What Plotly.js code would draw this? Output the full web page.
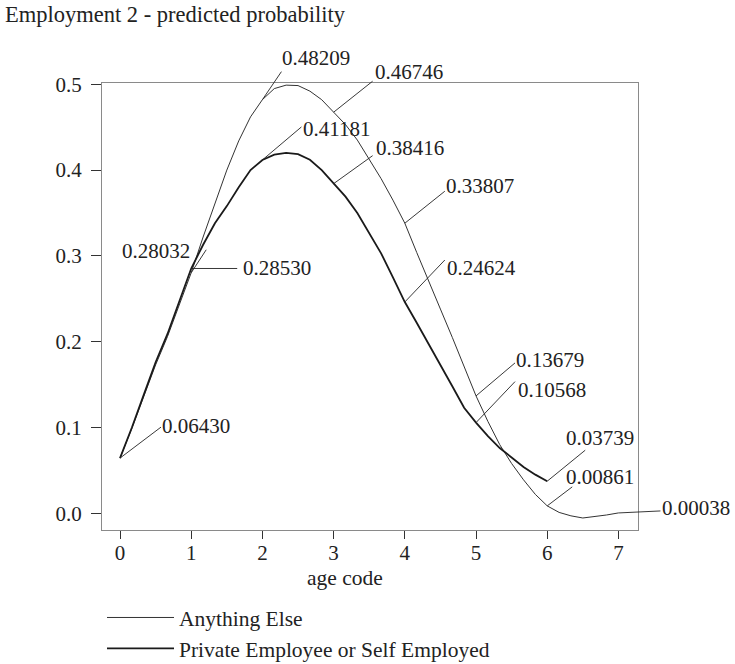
<!DOCTYPE html>
<html>
<head>
<meta charset="utf-8">
<script src="https://cdn.plot.ly/plotly-3.0.1.min.js"></script>
<style>html,body{margin:0;padding:0;background:#fff;}#chart{width:735px;height:664px;}</style>
</head>
<body>
<div id="chart"></div>
<script>
// ---- data ----
const chartTitle = "Employment 2 - predicted probability";
const xAxisTitle = "age code";
const seriesNames = ["Anything Else", "Private Employee or Self Employed"];

const ageCodeElse = [0, 0.167, 0.333, 0.5, 0.667, 0.833, 1, 1.167, 1.333, 1.5, 1.667, 1.833, 2, 2.167, 2.333, 2.5, 2.667, 2.833, 3, 3.167, 3.333, 3.5, 3.667, 3.833, 4, 4.167, 4.333, 4.5, 4.667, 4.833, 5, 5.167, 5.333, 5.5, 5.667, 5.833, 6, 6.167, 6.333, 6.5, 6.667, 6.833, 7];
const probElse = [0.0643, 0.099, 0.136, 0.173, 0.206, 0.243, 0.2803, 0.322, 0.362, 0.400, 0.434, 0.462, 0.4821, 0.495, 0.499, 0.4985, 0.492, 0.482, 0.4675, 0.453, 0.435, 0.413, 0.390, 0.365, 0.3381, 0.304, 0.270, 0.238, 0.205, 0.170, 0.1368, 0.107, 0.080, 0.058, 0.039, 0.022, 0.0086, 0.001, -0.003, -0.0055, -0.004, -0.002, 0.0004];

const ageCodePrivate = [0, 0.167, 0.333, 0.5, 0.667, 0.833, 1, 1.167, 1.333, 1.5, 1.667, 1.833, 2, 2.167, 2.333, 2.5, 2.667, 2.833, 3, 3.167, 3.333, 3.5, 3.667, 3.833, 4, 4.167, 4.333, 4.5, 4.667, 4.833, 5, 5.167, 5.333, 5.5, 5.667, 5.833, 6];
const probPrivate = [0.0643, 0.100, 0.138, 0.176, 0.209, 0.247, 0.2853, 0.313, 0.338, 0.358, 0.380, 0.400, 0.4118, 0.418, 0.420, 0.4185, 0.412, 0.400, 0.3842, 0.369, 0.350, 0.327, 0.303, 0.275, 0.2462, 0.222, 0.198, 0.173, 0.148, 0.123, 0.1057, 0.090, 0.076, 0.065, 0.054, 0.045, 0.0374];

// labelled points
const labelAgeElse = [1, 2, 3, 4, 5, 6, 7];
const labelValElse = [0.28032, 0.48209, 0.46746, 0.33807, 0.13679, 0.00861, 0.00038];
const labelAgePrivate = [0, 1, 2, 3, 4, 5, 6];
const labelValPrivate = [0.06430, 0.28530, 0.41181, 0.38416, 0.24624, 0.10568, 0.03739];

const xTickVals = [0, 1, 2, 3, 4, 5, 6, 7];
const yTickVals = [0, 0.1, 0.2, 0.3, 0.4, 0.5];

// ---- layout / style (pixel offsets of leaders and labels) ----
// [leader dx, leader dy, text dx, text dy(screen, down +), anchor]
const offsElse = [
  [15, -23, -1, -22, "right"],
  [19, -28, 20, -42, "left"],
  [39, -31, 41, -40, "left"],
  [40, -32, 41, -37, "left"],
  [39, -33, 40, -36, "left"],
  [25, -19, 19, -29, "left"],
  [42, -2, 44, -5, "left"]
];
const offsPrivate = [
  [41, -31, 42, -32, "left"],
  [46, 0, 52, 0, "left"],
  [39, -33, 41, -31, "left"],
  [39, -28, 42, -36, "left"],
  [40, -42, 42, -34, "left"],
  [39, -41, 42, -33, "left"],
  [38, -31, 19, -43, "left"]
];

const FONT = "Liberation Serif, Times New Roman, serif";
const INK = "#222";

const traces = [
  {x: ageCodeElse, y: probElse, name: seriesNames[0], mode: "lines", type: "scatter",
   line: {color: "#333", width: 1}},
  {x: ageCodePrivate, y: probPrivate, name: seriesNames[1], mode: "lines", type: "scatter",
   line: {color: "#1a1a1a", width: 1.8}}
];

const annotations = [];
function addLabels(xs, vs, offs) {
  xs.forEach((x, i) => {
    const v = vs[i];
    const o = offs[i];
    annotations.push({
      x: x, y: v, xref: "x", yref: "y", text: " ", showarrow: true, arrowhead: 0,
      arrowwidth: 0.9, arrowcolor: "#222", ax: o[0], ay: o[1], axref: "pixel", ayref: "pixel",
      font: {size: 1}, borderpad: 0, borderwidth: 0, standoff: 0
    });
    annotations.push({
      x: x, y: v, xref: "x", yref: "y", text: v.toFixed(5), showarrow: false,
      xanchor: o[4], yanchor: "middle", xshift: o[2], yshift: -o[3],
      font: {family: FONT, size: 21, color: INK}, borderpad: 0, borderwidth: 0
    });
  });
}
addLabels(labelAgeElse, labelValElse, offsElse);
addLabels(labelAgePrivate, labelValPrivate, offsPrivate);

annotations.push({
  text: xAxisTitle, xref: "paper", yref: "paper", x: 0.4525, y: -0.107,
  xanchor: "center", yanchor: "middle", showarrow: false,
  font: {family: FONT, size: 21.5, color: INK}
});

const layout = {
  width: 735, height: 664,
  margin: {l: 102, r: 97, t: 83, b: 134, pad: 0, autoexpand: false},
  paper_bgcolor: "#fff", plot_bgcolor: "#fff",
  font: {family: FONT, color: INK, size: 21},
  title: {text: chartTitle, x: 5 / 735, xref: "container", xanchor: "left",
          y: 1 - 14 / 664, yref: "container", yanchor: "middle",
          font: {family: FONT, size: 22.5, color: INK}},
  xaxis: {range: [-0.253, 7.275], tickvals: xTickVals, ticktext: xTickVals.map(String),
          ticks: "outside", ticklen: 8, tickwidth: 1, tickcolor: "#333", ticklabelstandoff: -4,
          showline: true, linecolor: "#8a8a8a", linewidth: 1, mirror: true, automargin: false,
          showgrid: false, zeroline: false, tickfont: {family: FONT, size: 21, color: INK}},
  yaxis: {range: [-0.0195, 0.5015], tickvals: yTickVals, ticktext: yTickVals.map(v => v.toFixed(1)),
          ticks: "outside", ticklen: 10, tickwidth: 1, tickcolor: "#333", ticklabelstandoff: 5,
          showline: true, linecolor: "#8a8a8a", linewidth: 1, mirror: true, automargin: false,
          showgrid: false, zeroline: false, tickfont: {family: FONT, size: 21, color: INK}},
  showlegend: true,
  legend: {x: 0, xanchor: "left", y: 1 - 597 / 664, yref: "container", yanchor: "top", orientation: "v",
           itemwidth: 67, font: {family: FONT, size: 21.5, color: INK},
           bgcolor: "rgba(0,0,0,0)", borderwidth: 0},
  annotations: annotations
};

Plotly.newPlot("chart", traces, layout, {displayModeBar: false, staticPlot: true});
</script>
</body>
</html>
